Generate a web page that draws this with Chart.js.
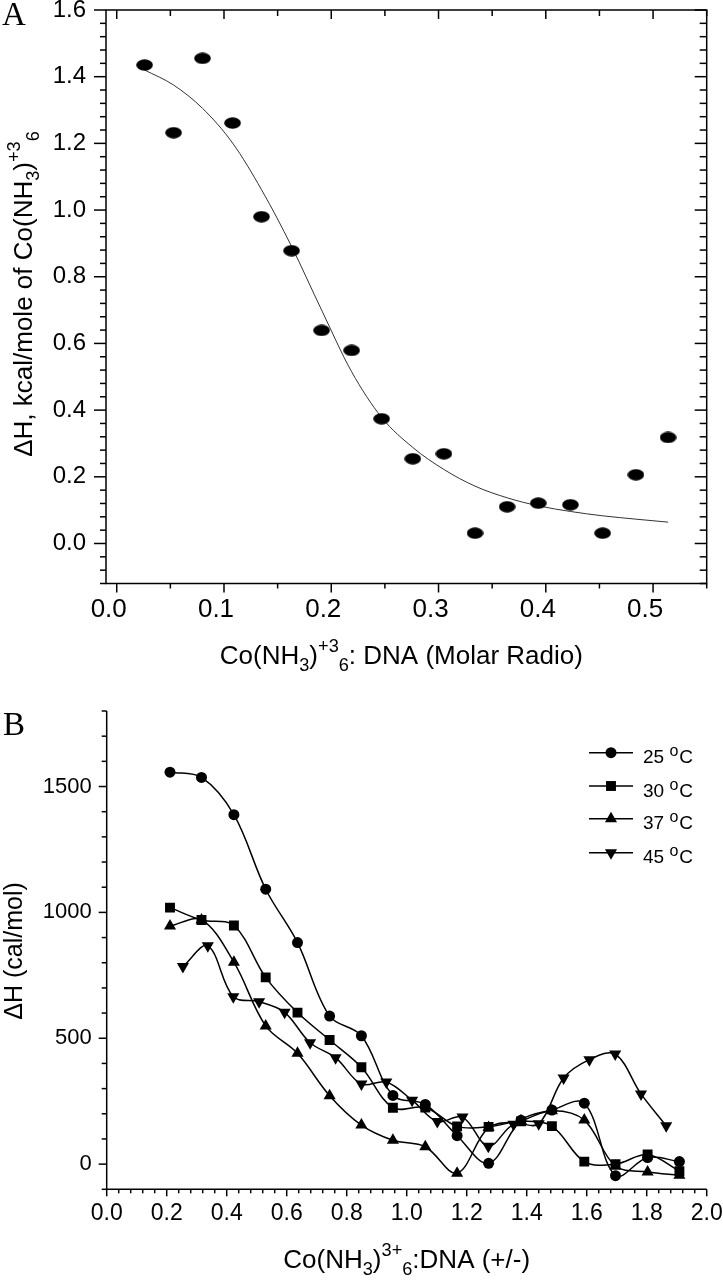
<!DOCTYPE html>
<html><head><meta charset="utf-8">
<script src="https://cdn.jsdelivr.net/npm/chart.js@4.4.1/dist/chart.umd.min.js"></script>
<style>
html,body{margin:0;padding:0;background:#fff;}
#wrap{position:relative;width:723px;height:1280px;overflow:hidden;}
canvas{position:absolute;left:0;}
#cA{top:0;} #cB{top:640px;}
</style></head><body>
<div id="wrap"><canvas id="cA" width="723" height="700"></canvas><canvas id="cB" width="723" height="640"></canvas></div>
<script>
// ---------- Panel A data ----------
const xA   = [0.026,0.053,0.080,0.108,0.135,0.163,0.191,0.219,0.247,0.276,0.305,0.334,0.364,0.393,0.423,0.453,0.484,0.514];
const dHA  = [1.435,1.232,1.455,1.261,0.980,0.878,0.639,0.579,0.374,0.254,0.269,0.031,0.110,0.121,0.116,0.031,0.206,0.318];
const fitA = [1.420,1.375,1.305,1.201,1.061,0.891,0.700,0.515,0.378,0.288,0.222,0.172,0.137,0.113,0.096,0.083,0.073,0.064];
const xTicksA = [0.0,0.1,0.2,0.3,0.4,0.5];
const yTicksA = [0.0,0.2,0.4,0.6,0.8,1.0,1.2,1.4,1.6];

// ---------- Panel B data ----------
const xB    = [0.211,0.316,0.424,0.530,0.636,0.743,0.849,0.954,1.062,1.168,1.273,1.381,1.484,1.592,1.696,1.803,1.909];
const dH25  = [1557,1536,1388,1092,880,588,510,273,237,113,3,174,215,242,-46,26,10];
const dH30  = [1019,970,948,742,602,493,385,224,225,150,148,170,151,10,0,38,-28];
const dH37  = [946,970,802,549,440,272,155,95,69,-36,145,172,212,175,-8,-31,-44];
const x45   = [0.254,0.337,0.422,0.508,0.593,0.678,0.763,0.849,0.932,1.018,1.102,1.186,1.272,1.356,1.440,1.523,1.609,1.695,1.781,1.865];
const dH45  = [785,867,665,645,603,482,423,318,326,254,169,187,71,158,160,342,415,437,279,152];
const seriesNamesB = ['25','30','37','45'];
const xTicksB = [0.0,0.2,0.4,0.6,0.8,1.0,1.2,1.4,1.6,1.8,2.0];
const yTicksB = [0,500,1000,1500];

// ---------- Text ----------
const panelA = 'A', panelB = 'B';
const xTitleA = [['Co(NH','n'],['3','sub'],[')','n'],['+3','sup'],['6','sub'],[': DNA (Molar Radio)','n']];
const yTitleA = [['\u0394H, kcal/mole of Co(NH','n'],['3','sub'],[')','n'],['+3','sup'],['6','sub']];
const xTitleB = [['Co(NH','n'],['3','sub'],[')','n'],['3+','sup'],['6','sub'],[':DNA (+/-)','n']];
const yTitleB = [['\u0394H (cal/mol)','n']];

const FONT = '"Liberation Sans", Arial, Helvetica, sans-serif';
const SERIF = '"Liberation Serif", "Times New Roman", serif';
Chart.defaults.font.family = FONT;
Chart.defaults.color = '#000';

function richWidth(ctx, segs, F){
  let w = 0;
  for (const [t,k] of segs){ ctx.font = (k==='n'?F:F*0.7)+'px '+FONT; w += ctx.measureText(t).width; }
  return w;
}
function drawRich(ctx, segs, F, cx, baseY, rot){
  ctx.save();
  ctx.translate(cx, baseY);
  if (rot) ctx.rotate(rot);
  const W = richWidth(ctx, segs, F);
  let x = -W/2;
  ctx.fillStyle = '#000'; ctx.textAlign = 'left'; ctx.textBaseline = 'alphabetic';
  for (const [t,k] of segs){
    const sz = k==='n'?F:F*0.7;
    ctx.font = sz+'px '+FONT;
    const dy = k==='sub'? F*0.27 : (k==='sup'? -F*0.46 : 0);
    ctx.fillText(t, x, dy);
    x += ctx.measureText(t).width;
  }
  ctx.restore();
}
function ellipseMarker(w,h){
  const c = document.createElement('canvas'); c.width = w; c.height = h;
  const g = c.getContext('2d'); g.fillStyle = '#000';
  g.beginPath(); g.ellipse(w/2, h/2, w/2-0.2, h/2-0.2, 0, 0, Math.PI*2); g.fill();
  return c;
}
function line(ctx,x1,y1,x2,y2){ ctx.beginPath(); ctx.moveTo(x1,y1); ctx.lineTo(x2,y2); ctx.stroke(); }

// ---------- Panel A ----------
const frameA = {
  id:'frameA',
  afterDraw(chart){
    const {ctx, chartArea:ca, scales:{x,y}} = chart;
    ctx.save(); ctx.strokeStyle = '#000'; ctx.lineWidth = 1.5;
    ctx.strokeRect(ca.left, ca.top, ca.right-ca.left, ca.bottom-ca.top);
    for (let i=-3;i<=40;i++){
      const py = y.getPixelForValue(i*0.04), maj = i%5===0;
      line(ctx, ca.left-(maj?12:6), py, ca.left, py);
      line(ctx, ca.right-(maj?12:7), py, ca.right, py);
    }
    for (let i=0;i<=11;i++){
      const px = x.getPixelForValue(i*0.05), maj = i%2===0;
      line(ctx, px, ca.bottom, px, ca.bottom+(maj?9:5));
      line(ctx, px, ca.top, px, ca.top+(maj?9:6));
    }
    ctx.restore();
    drawRich(ctx, xTitleA, 26, (ca.left+ca.right)/2 - 5, 664);
    drawRich(ctx, yTitleA, 26, 32, 294, -Math.PI/2);
    ctx.save(); ctx.font = '33px '+SERIF; ctx.fillStyle='#000'; ctx.textBaseline='alphabetic';
    ctx.fillText(panelA, 2, 25); ctx.restore();
  }
};
new Chart(document.getElementById('cA'), {
  type:'scatter',
  data:{datasets:[
    {label:'fit', data:xA.map((v,i)=>({x:v,y:fitA[i]})), showLine:true, borderColor:'#333', borderWidth:1, pointRadius:0, cubicInterpolationMode:'monotone', order:2},
    {label:'dH', data:xA.map((v,i)=>({x:v,y:dHA[i]})), showLine:false, pointStyle:ellipseMarker(17,12), pointRadius:9, order:1}
  ]},
  options:{
    responsive:false, animation:false, devicePixelRatio:1,
    layout:{padding:{top:10,right:16.3,left:0,bottom:0}},
    plugins:{legend:{display:false}, tooltip:{enabled:false}},
    scales:{
      x:{type:'linear', min:-0.01, max:0.55, grid:{display:false,drawTicks:false}, border:{display:false},
         ticks:{font:{size:26}, padding:11, labelOffset:-8, autoSkip:false, maxRotation:0, callback:v=>v.toFixed(1)},
         afterBuildTicks:s=>{s.ticks = xTicksA.map(v=>({value:v}));},
         afterFit:s=>{s.height=116.5; s.paddingLeft=0; s.paddingRight=0;}},
      y:{type:'linear', min:-0.12, max:1.6, grid:{display:false,drawTicks:false}, border:{display:false},
         ticks:{font:{size:24}, padding:20, autoSkip:false, callback:v=>v.toFixed(1)},
         afterBuildTicks:s=>{s.ticks = yTicksA.map(v=>({value:v}));},
         afterFit:s=>{s.width=106; s.paddingTop=0; s.paddingBottom=0;}}
    }
  },
  plugins:[frameA]
});

// ---------- Panel B ----------
const stylesB = [
  {pointStyle:'circle', pointRadius:5.5, pointRotation:0},
  {pointStyle:'rect', pointRadius:7, pointRotation:0},
  {pointStyle:'triangle', pointRadius:7, pointRotation:0},
  {pointStyle:'triangle', pointRadius:7, pointRotation:180}
];
function marker(ctx, st, x, y){
  ctx.beginPath();
  const r = st.pointRadius;
  if (st.pointStyle==='circle'){ ctx.arc(x,y,r,0,Math.PI*2); }
  else if (st.pointStyle==='rect'){ const s=r*Math.SQRT1_2; ctx.rect(x-s,y-s,2*s,2*s); }
  else { const d = st.pointRotation===180?-1:1;
    ctx.moveTo(x, y-d*r); ctx.lineTo(x+0.866*r, y+d*r/2); ctx.lineTo(x-0.866*r, y+d*r/2); ctx.closePath(); }
  ctx.fill();
}
const frameB = {
  id:'frameB',
  afterDraw(chart){
    const {ctx, chartArea:ca, scales:{x,y}} = chart;
    ctx.save(); ctx.strokeStyle='#000'; ctx.lineWidth=1.5;
    line(ctx, ca.left, ca.top, ca.left, ca.bottom);
    line(ctx, ca.left, ca.bottom, ca.right, ca.bottom);
    for (let i=-1;i<=18;i++){
      const py = y.getPixelForValue(i*100), maj = i%5===0;
      line(ctx, ca.left-(maj?8:5), py, ca.left, py);
    }
    for (let i=0;i<=50;i++){
      const px = x.getPixelForValue(i*0.04), maj = i%5===0;
      line(ctx, px, ca.bottom, px, ca.bottom+(maj?7:4));
    }
    // legend
    const rows = [112.7,146,178.8,212.7];
    ctx.fillStyle='#000';
    seriesNamesB.forEach((nm,i)=>{
      const ly = rows[i];
      line(ctx, 589, ly, 633, ly);
      marker(ctx, stylesB[i], 611, ly);
      ctx.font = '19px '+FONT; ctx.textAlign='left'; ctx.textBaseline='alphabetic';
      ctx.fillText(nm, 643, ly+10.6);
      const w = ctx.measureText(nm+' ').width;
      ctx.font = '16px '+FONT; ctx.fillText('o', 643+w, ly+3.6);
      const wo = ctx.measureText('o').width;
      ctx.font = '19px '+FONT; ctx.fillText('C', 643+w+wo+1, ly+10.6);
    });
    ctx.restore();
    drawRich(ctx, xTitleB, 26, (ca.left+ca.right)/2, 628.3);
    drawRich(ctx, yTitleB, 25, 22, 311, -Math.PI/2);
    ctx.save(); ctx.font = '33px '+SERIF; ctx.fillStyle='#000'; ctx.textBaseline='alphabetic';
    ctx.fillText(panelB, 3, 95); ctx.restore();
  }
};
const seriesB = [
  xB.map((v,i)=>({x:v,y:dH25[i]})),
  xB.map((v,i)=>({x:v,y:dH30[i]})),
  xB.map((v,i)=>({x:v,y:dH37[i]})),
  x45.map((v,i)=>({x:v,y:dH45[i]}))
];
new Chart(document.getElementById('cB'), {
  type:'scatter',
  data:{datasets: seriesB.map((d,i)=>Object.assign({
    label: seriesNamesB[i]+' oC', data:d, showLine:true, borderColor:'#000', backgroundColor:'#000',
    pointBackgroundColor:'#000', pointBorderColor:'#000', pointBorderWidth:0, borderWidth:1.5, tension:0.35
  }, stylesB[i]))},
  options:{
    responsive:false, animation:false, devicePixelRatio:1,
    layout:{padding:{top:71,right:16.3,left:0,bottom:0}},
    plugins:{legend:{display:false}, tooltip:{enabled:false}},
    scales:{
      x:{type:'linear', min:0, max:2.0, grid:{display:false,drawTicks:false}, border:{display:false},
         ticks:{font:{size:23}, padding:10.4, autoSkip:false, maxRotation:0, callback:v=>v.toFixed(1)},
         afterBuildTicks:s=>{s.ticks = xTicksB.map(v=>({value:v}));},
         afterFit:s=>{s.height=90.7; s.paddingLeft=0; s.paddingRight=0;}},
      y:{type:'linear', min:-100, max:1800, grid:{display:false,drawTicks:false}, border:{display:false},
         ticks:{font:{size:22}, padding:15, autoSkip:false, callback:v=>String(v)},
         afterBuildTicks:s=>{s.ticks = yTicksB.map(v=>({value:v}));},
         afterFit:s=>{s.width=106.7; s.paddingTop=0; s.paddingBottom=0;}}
    }
  },
  plugins:[frameB]
});
</script>
</body></html>
